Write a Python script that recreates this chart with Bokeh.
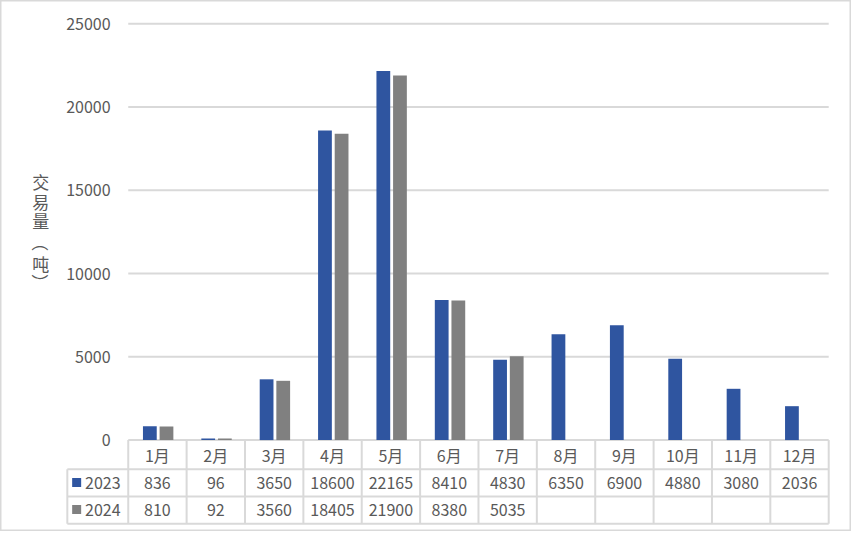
import math
from bokeh.plotting import figure
from bokeh.models import Range1d
from bokeh.core.properties import value
from bokeh.embed import file_html
from bokeh.resources import INLINE

# ---- data ----
months = ["1月", "2月", "3月", "4月", "5月", "6月", "7月", "8月", "9月", "10月", "11月", "12月"]
series_names = ["2023", "2024"]
vals_2023 = [836, 96, 3650, 18600, 22165, 8410, 4830, 6350, 6900, 4880, 3080, 2036]
vals_2024 = [810, 92, 3560, 18405, 21900, 8380, 5035]
y_ticks = [0, 5000, 10000, 15000, 20000, 25000]
y_title_chars = ["交", "易", "量", "吨"]
y_title_parens = ["（", "）"]

# ---- styling / layout ----
BLUE = "#2F55A0"
GRAY = "#808080"
TXT = "#595959"
LINE = "#D9D9D9"
FONT = value("Noto Sans CJK SC")

px_per_month = 59.4
val_per_px = 25000 / 428.0

def xr(px):  # reference pixel x -> data x
    return (px - 130) / px_per_month

def yr(px):  # reference pixel y -> data y
    return (452 - px) * val_per_px

p = figure(width=851, height=531, output_backend="svg", toolbar_location=None,
           x_range=Range1d(xr(0), xr(866)), y_range=Range1d(yr(546), yr(0)),
           x_axis_location=None, y_axis_location=None, min_border=0)
p.xgrid.visible = False
p.ygrid.visible = False
p.outline_line_color = LINE
p.outline_line_width = 2
p.background_fill_color = "white"
p.border_fill_color = "white"

n = len(months)
# gridlines
p.segment(x0=[0] * len(y_ticks), x1=[n] * len(y_ticks), y0=y_ticks, y1=y_ticks,
          line_color=LINE, line_width=2)

# bars
bw = 0.236
x23 = [i + 0.37 for i in range(n)]
x24 = [i + 0.655 for i in range(len(vals_2024))]
p.vbar(x=x23, top=vals_2023, bottom=0, width=bw, fill_color=BLUE, line_color=None)
p.vbar(x=x24, top=vals_2024, bottom=0, width=bw, fill_color=GRAY, line_color=None)

# y tick labels
p.text(x=[xr(112)] * len(y_ticks), y=y_ticks, text=[str(t) for t in y_ticks],
       text_font=FONT, text_font_size="16px", text_color=TXT,
       text_align="right", text_baseline="middle")

# y title (vertical, stacked characters)
ty = [186, 206.5, 226.5, 270]
p.text(x=[xr(41)] * len(y_title_chars), y=[yr(v) for v in ty], text=y_title_chars,
       text_font=FONT, text_font_size="17px", text_color=TXT,
       text_align="center", text_baseline="middle")
tp = [249, 290]
p.text(x=[xr(41)] * 2, y=[yr(v) for v in tp], text=y_title_parens, angle=-math.pi / 2,
       text_font=FONT, text_font_size="17px", text_color=TXT,
       text_align="center", text_baseline="middle")

# data table
row_y = [yr(452), yr(482), yr(510), yr(538)]
left = xr(68)
p.segment(x0=[left, left, left], x1=[n, n, n], y0=row_y[1:], y1=row_y[1:],
          line_color=LINE, line_width=2)
p.segment(x0=list(range(n + 1)), x1=list(range(n + 1)),
          y0=[row_y[0]] * (n + 1), y1=[row_y[3]] * (n + 1), line_color=LINE, line_width=2)
p.segment(x0=[left], x1=[left], y0=[row_y[1]], y1=[row_y[3]], line_color=LINE, line_width=2)

cx = [i + 0.5 for i in range(n)]
p.text(x=cx, y=[yr(467)] * n, text=months, text_font=FONT, text_font_size="16px",
       text_color=TXT, text_align="center", text_baseline="middle")
p.text(x=cx, y=[yr(496)] * n, text=[str(v) for v in vals_2023], text_font=FONT,
       text_font_size="16px", text_color=TXT, text_align="center", text_baseline="middle")
p.text(x=cx[:len(vals_2024)], y=[yr(524)] * len(vals_2024), text=[str(v) for v in vals_2024],
       text_font=FONT, text_font_size="16px", text_color=TXT,
       text_align="center", text_baseline="middle")

# legend keys in table
p.scatter(x=[xr(77.5)] * 2, y=[yr(495.5), yr(523.5)], marker="square", size=9,
          fill_color=[BLUE, GRAY], line_color=None)
p.text(x=[xr(86)] * 2, y=[yr(496), yr(524)], text=series_names, text_font=FONT,
       text_font_size="16px", text_color=TXT, text_align="left", text_baseline="middle")

open("out.html", "w").write(file_html(p, INLINE))
